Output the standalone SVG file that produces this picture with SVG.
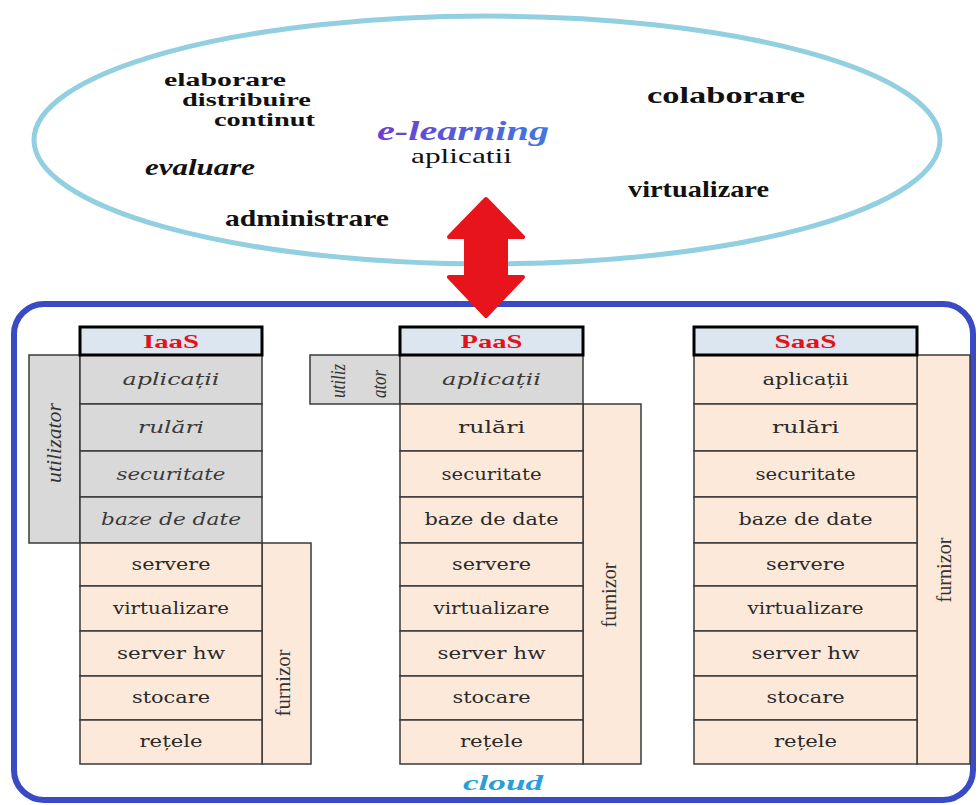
<svg xmlns="http://www.w3.org/2000/svg" width="979" height="805" viewBox="0 0 979 805">
  <defs>
    <linearGradient id="elGrad" x1="0" y1="0" x2="1" y2="0">
      <stop offset="0" stop-color="#6a3fd2"/>
      <stop offset="1" stop-color="#3f78e0"/>
    </linearGradient>
  </defs>
  <style>
    .cell-g { fill: #d9d9d9; stroke: #3a3a3a; stroke-width: 1.5; }
    .cell-p { fill: #fce9da; stroke: #3a3a3a; stroke-width: 1.5; }
    .hdr { fill: #dce6f1; stroke: #000; stroke-width: 3; }
    .t-it { font-family: "DejaVu Serif", "Liberation Serif", serif; font-style: italic; font-size: 16px; fill: #3a3a3a; text-anchor: middle; }
    .t-rg { font-family: "DejaVu Serif", "Liberation Serif", serif; font-size: 16px; fill: #2a2a2a; text-anchor: middle; }
    .t-hd { font-family: "Liberation Serif", serif; font-weight: bold; font-size: 19px; fill: #e3121b; text-anchor: middle; }
    .side { font-family: "Liberation Serif", serif; font-size: 20px; fill: #333; text-anchor: middle; }
    .side-it { font-family: "Liberation Serif", serif; font-style: italic; font-size: 20px; fill: #333; }
    .word { font-family: "Liberation Serif", serif; font-weight: bold; font-size: 23px; fill: #111; }
    .word-sm { font-family: "Liberation Serif", serif; font-weight: bold; font-size: 18px; fill: #111; }
  </style>

  <!-- e-learning application cloud (top ellipse) -->
  <g id="elearning">
    <ellipse cx="487" cy="140" rx="453" ry="124" fill="none" stroke="#92cfe0" stroke-width="5"/>
    <text class="word-sm" x="164" y="86" textLength="122" lengthAdjust="spacingAndGlyphs">elaborare</text>
    <text class="word-sm" x="182" y="106" textLength="129" lengthAdjust="spacingAndGlyphs">distribuire</text>
    <text class="word-sm" x="214" y="126" textLength="101" lengthAdjust="spacingAndGlyphs">continut</text>
    <text class="word" x="145" y="175" textLength="110" lengthAdjust="spacingAndGlyphs" font-style="italic">evaluare</text>
    <text class="word" x="225" y="226" textLength="164" lengthAdjust="spacingAndGlyphs">administrare</text>
    <text class="word" x="647" y="103" textLength="158" lengthAdjust="spacingAndGlyphs">colaborare</text>
    <text class="word" x="628" y="197" textLength="141" lengthAdjust="spacingAndGlyphs">virtualizare</text>
    <text x="377" y="140" textLength="172" lengthAdjust="spacingAndGlyphs" font-family="Liberation Serif, serif" font-weight="bold" font-style="italic" font-size="27" fill="url(#elGrad)">e-learning</text>
    <text x="411" y="163" textLength="101" lengthAdjust="spacingAndGlyphs" font-family="Liberation Serif, serif" font-size="21" fill="#111">aplicatii</text>
  </g>

  <!-- cloud frame -->
  <g id="cloud">
    <rect x="14" y="304" width="959" height="496" rx="30" ry="30" fill="none" stroke="#3a49c4" stroke-width="6"/>
    <text x="463" y="790" textLength="80" lengthAdjust="spacingAndGlyphs" font-family="Liberation Serif, serif" font-weight="bold" font-style="italic" font-size="22" fill="#2a9ed8">cloud</text>
  </g>

  <!-- IaaS stack -->
  <g id="iaas">
    <rect class="cell-g" x="29" y="355" width="51" height="188"/>
    <text class="side-it" transform="translate(61,443) rotate(-90)" text-anchor="middle" textLength="80" lengthAdjust="spacingAndGlyphs">utilizator</text>
    <rect class="cell-p" x="262" y="543" width="49" height="221"/>
    <text class="side" transform="translate(290,683) rotate(-90)" textLength="67" lengthAdjust="spacingAndGlyphs">furnizor</text>
    <rect class="cell-g" x="80" y="355" width="182" height="49"/>
    <rect class="cell-g" x="80" y="404" width="182" height="47"/>
    <rect class="cell-g" x="80" y="451" width="182" height="46"/>
    <rect class="cell-g" x="80" y="497" width="182" height="46"/>
    <rect class="cell-p" x="80" y="543" width="182" height="43"/>
    <rect class="cell-p" x="80" y="586" width="182" height="45"/>
    <rect class="cell-p" x="80" y="631" width="182" height="45"/>
    <rect class="cell-p" x="80" y="676" width="182" height="44"/>
    <rect class="cell-p" x="80" y="720" width="182" height="44"/>
    <rect class="hdr" x="80" y="327" width="182" height="28"/>
    <text class="t-hd" x="171" y="348" textLength="56" lengthAdjust="spacingAndGlyphs">IaaS</text>
    <text class="t-it" x="171" y="385" textLength="97" lengthAdjust="spacingAndGlyphs">aplicații</text>
    <text class="t-it" x="171" y="433" textLength="66" lengthAdjust="spacingAndGlyphs">rulări</text>
    <text class="t-it" x="171" y="480" textLength="109" lengthAdjust="spacingAndGlyphs">securitate</text>
    <text class="t-it" x="171" y="525" textLength="140" lengthAdjust="spacingAndGlyphs">baze de date</text>
    <text class="t-rg" x="171" y="570" textLength="79" lengthAdjust="spacingAndGlyphs">servere</text>
    <text class="t-rg" x="171" y="614" textLength="116" lengthAdjust="spacingAndGlyphs">virtualizare</text>
    <text class="t-rg" x="171" y="659" textLength="108" lengthAdjust="spacingAndGlyphs">server hw</text>
    <text class="t-rg" x="171" y="703" textLength="78" lengthAdjust="spacingAndGlyphs">stocare</text>
    <text class="t-rg" x="171" y="747" textLength="63" lengthAdjust="spacingAndGlyphs">rețele</text>
  </g>

  <!-- PaaS stack -->
  <g id="paas">
    <rect class="cell-g" x="310" y="355" width="90" height="49"/>
    <text class="side-it" transform="translate(345,398) rotate(-90)" font-size="18" textLength="34" lengthAdjust="spacingAndGlyphs">utiliz</text>
    <text class="side-it" transform="translate(386,398) rotate(-90)" font-size="18" textLength="28" lengthAdjust="spacingAndGlyphs">ator</text>
    <rect class="cell-p" x="583" y="404" width="58" height="360"/>
    <text class="side" transform="translate(616,595) rotate(-90)" textLength="65" lengthAdjust="spacingAndGlyphs">furnizor</text>
    <rect class="cell-g" x="400" y="355" width="183" height="49"/>
    <rect class="cell-p" x="400" y="404" width="183" height="47"/>
    <rect class="cell-p" x="400" y="451" width="183" height="46"/>
    <rect class="cell-p" x="400" y="497" width="183" height="46"/>
    <rect class="cell-p" x="400" y="543" width="183" height="43"/>
    <rect class="cell-p" x="400" y="586" width="183" height="45"/>
    <rect class="cell-p" x="400" y="631" width="183" height="45"/>
    <rect class="cell-p" x="400" y="676" width="183" height="44"/>
    <rect class="cell-p" x="400" y="720" width="183" height="44"/>
    <rect class="hdr" x="400" y="327" width="183" height="28"/>
    <text class="t-hd" x="491.5" y="348" textLength="62" lengthAdjust="spacingAndGlyphs">PaaS</text>
    <text class="t-it" x="491.5" y="385" textLength="99" lengthAdjust="spacingAndGlyphs">aplicații</text>
    <text class="t-rg" x="491.5" y="433" textLength="67" lengthAdjust="spacingAndGlyphs">rulări</text>
    <text class="t-rg" x="491.5" y="480" textLength="100" lengthAdjust="spacingAndGlyphs">securitate</text>
    <text class="t-rg" x="491.5" y="525" textLength="134" lengthAdjust="spacingAndGlyphs">baze de date</text>
    <text class="t-rg" x="491.5" y="570" textLength="79" lengthAdjust="spacingAndGlyphs">servere</text>
    <text class="t-rg" x="491.5" y="614" textLength="116" lengthAdjust="spacingAndGlyphs">virtualizare</text>
    <text class="t-rg" x="491.5" y="659" textLength="108" lengthAdjust="spacingAndGlyphs">server hw</text>
    <text class="t-rg" x="491.5" y="703" textLength="78" lengthAdjust="spacingAndGlyphs">stocare</text>
    <text class="t-rg" x="491.5" y="747" textLength="63" lengthAdjust="spacingAndGlyphs">rețele</text>
  </g>

  <!-- SaaS stack -->
  <g id="saas">
    <rect class="cell-p" x="917" y="355" width="53" height="409"/>
    <text class="side" transform="translate(951,570) rotate(-90)" textLength="65" lengthAdjust="spacingAndGlyphs">furnizor</text>
    <rect class="cell-p" x="694" y="355" width="223" height="49"/>
    <rect class="cell-p" x="694" y="404" width="223" height="47"/>
    <rect class="cell-p" x="694" y="451" width="223" height="46"/>
    <rect class="cell-p" x="694" y="497" width="223" height="46"/>
    <rect class="cell-p" x="694" y="543" width="223" height="43"/>
    <rect class="cell-p" x="694" y="586" width="223" height="45"/>
    <rect class="cell-p" x="694" y="631" width="223" height="45"/>
    <rect class="cell-p" x="694" y="676" width="223" height="44"/>
    <rect class="cell-p" x="694" y="720" width="223" height="44"/>
    <rect class="hdr" x="694" y="327" width="223" height="28"/>
    <text class="t-hd" x="805.5" y="348" textLength="62" lengthAdjust="spacingAndGlyphs">SaaS</text>
    <text class="t-rg" x="805.5" y="385" textLength="86" lengthAdjust="spacingAndGlyphs">aplicații</text>
    <text class="t-rg" x="805.5" y="433" textLength="67" lengthAdjust="spacingAndGlyphs">rulări</text>
    <text class="t-rg" x="805.5" y="480" textLength="100" lengthAdjust="spacingAndGlyphs">securitate</text>
    <text class="t-rg" x="805.5" y="525" textLength="134" lengthAdjust="spacingAndGlyphs">baze de date</text>
    <text class="t-rg" x="805.5" y="570" textLength="79" lengthAdjust="spacingAndGlyphs">servere</text>
    <text class="t-rg" x="805.5" y="614" textLength="116" lengthAdjust="spacingAndGlyphs">virtualizare</text>
    <text class="t-rg" x="805.5" y="659" textLength="108" lengthAdjust="spacingAndGlyphs">server hw</text>
    <text class="t-rg" x="805.5" y="703" textLength="78" lengthAdjust="spacingAndGlyphs">stocare</text>
    <text class="t-rg" x="805.5" y="747" textLength="63" lengthAdjust="spacingAndGlyphs">rețele</text>
  </g>

  <!-- connectors: two-way arrow between the applications and the cloud -->
  <g id="connectors">
    <path d="M486,199 L523,237 L506,237 L506,277 L523,277 L486,316 L449,277 L466,277 L466,237 L449,237 Z"
          fill="#e8141c" stroke="#e8141c" stroke-width="4" stroke-linejoin="round"/>
  </g>
</svg>
